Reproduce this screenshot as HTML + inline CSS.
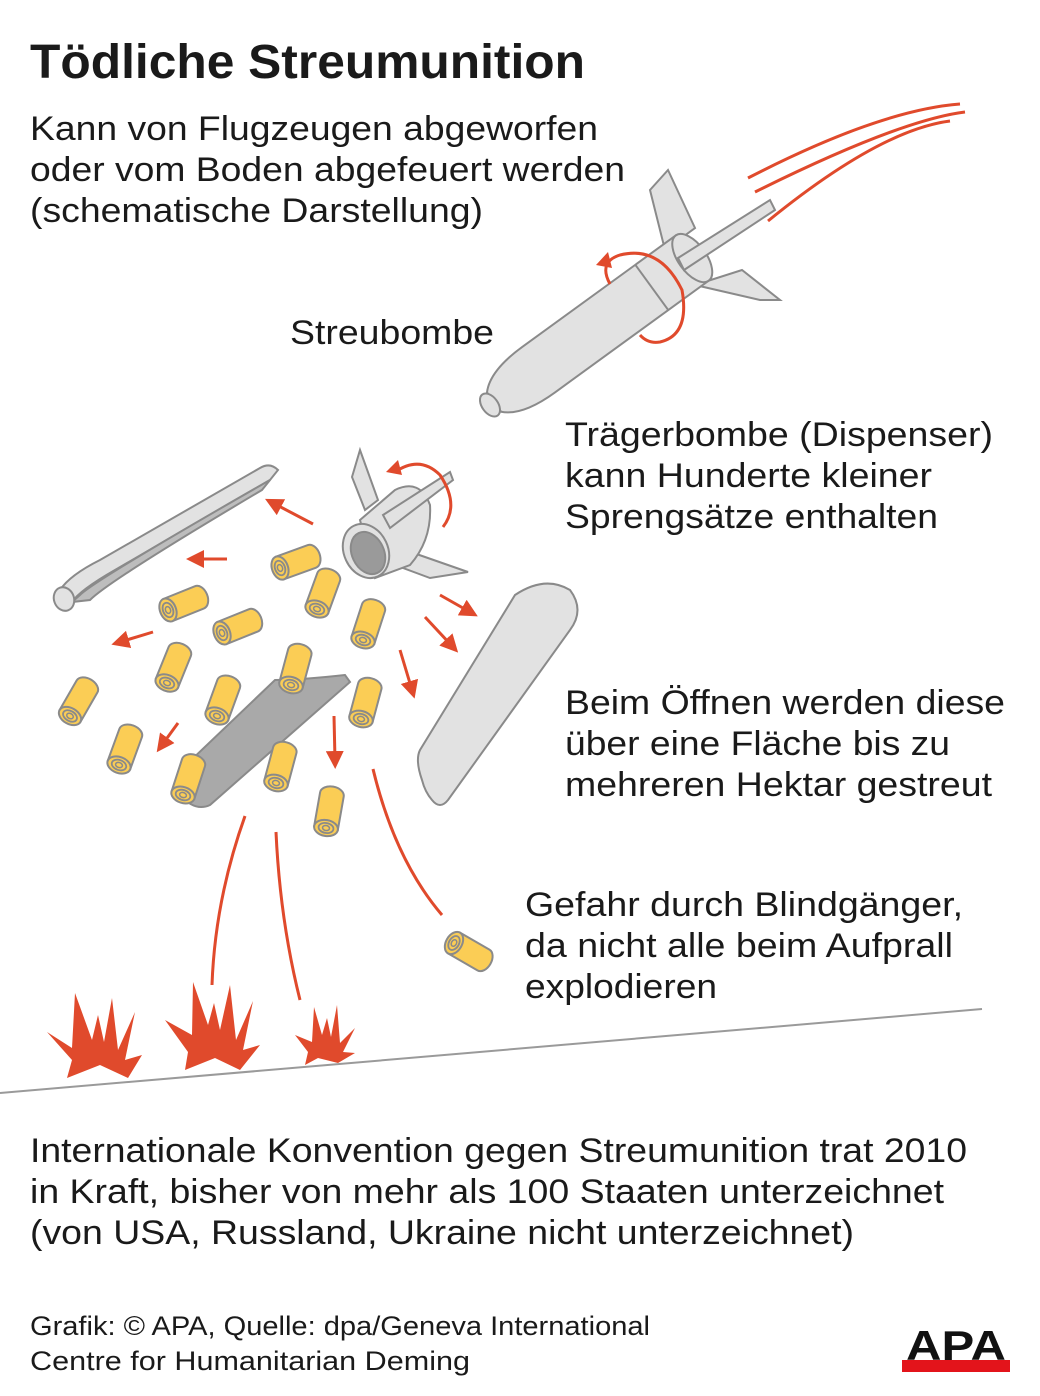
<!DOCTYPE html>
<html><head><meta charset="utf-8"><style>
body{margin:0;background:#fff;}
svg{display:block;}
text{font-family:"Liberation Sans",Arial,sans-serif;fill:#1a1a1a;}
</style></head><body>
<svg width="1040" height="1396" viewBox="0 0 1040 1396" xmlns="http://www.w3.org/2000/svg">
<defs>
<g id="cart">
  <path d="M0,-12 L34,-12 A8,12 0 0 1 34,12 L0,12 Z" fill="#fbcd55" stroke="#8a8a8a" stroke-width="2"/>
  <ellipse cx="0" cy="0" rx="8" ry="12" fill="#fbcd55" stroke="#8a8a8a" stroke-width="2"/>
  <ellipse cx="0" cy="0" rx="5" ry="7.5" fill="none" stroke="#8a8a8a" stroke-width="1.8"/>
  <ellipse cx="0" cy="0" rx="2.5" ry="3.5" fill="none" stroke="#8a8a8a" stroke-width="1.5"/>
</g>
<marker id="ah" markerWidth="6" markerHeight="6" refX="3" refY="3" orient="auto" markerUnits="strokeWidth"><path d="M0,0 L6,3 L0,6 Z" fill="#e04a2c"/></marker>
</defs>
<text x="30" y="78" font-size="48" font-weight="bold" textLength="555" lengthAdjust="spacingAndGlyphs">Tödliche Streumunition</text>
<g font-size="34">
<text x="30" y="140" textLength="568" lengthAdjust="spacingAndGlyphs">Kann von Flugzeugen abgeworfen</text>
<text x="30" y="181" textLength="595" lengthAdjust="spacingAndGlyphs">oder vom Boden abgefeuert werden</text>
<text x="30" y="222" textLength="453" lengthAdjust="spacingAndGlyphs">(schematische Darstellung)</text>
<text x="290" y="344" textLength="204" lengthAdjust="spacingAndGlyphs">Streubombe</text>
<text x="565" y="446" textLength="428" lengthAdjust="spacingAndGlyphs">Trägerbombe (Dispenser)</text>
<text x="565" y="487" textLength="367" lengthAdjust="spacingAndGlyphs">kann Hunderte kleiner</text>
<text x="565" y="528" textLength="373" lengthAdjust="spacingAndGlyphs">Sprengsätze enthalten</text>
<text x="565" y="714" textLength="440" lengthAdjust="spacingAndGlyphs">Beim Öffnen werden diese</text>
<text x="565" y="755" textLength="385" lengthAdjust="spacingAndGlyphs">über eine Fläche bis zu</text>
<text x="565" y="796" textLength="427" lengthAdjust="spacingAndGlyphs">mehreren Hektar gestreut</text>
<text x="525" y="916" textLength="438" lengthAdjust="spacingAndGlyphs">Gefahr durch Blindgänger,</text>
<text x="525" y="957" textLength="428" lengthAdjust="spacingAndGlyphs">da nicht alle beim Aufprall</text>
<text x="525" y="998" textLength="192" lengthAdjust="spacingAndGlyphs">explodieren</text>
<text x="30" y="1162" textLength="937" lengthAdjust="spacingAndGlyphs">Internationale Konvention gegen Streumunition trat 2010</text>
<text x="30" y="1203" textLength="914" lengthAdjust="spacingAndGlyphs">in Kraft, bisher von mehr als 100 Staaten unterzeichnet</text>
<text x="30" y="1244" textLength="824" lengthAdjust="spacingAndGlyphs">(von USA, Russland, Ukraine nicht unterzeichnet)</text>
</g>
<g font-size="27">
<text x="30" y="1335" textLength="620" lengthAdjust="spacingAndGlyphs">Grafik: © APA, Quelle: dpa/Geneva International</text>
<text x="30" y="1370" textLength="440" lengthAdjust="spacingAndGlyphs">Centre for Humanitarian Deming</text>
</g>
<!-- APA logo -->
<rect x="902" y="1360" width="108" height="12" fill="#e3141b"/>
<text x="956" y="1360" font-size="42" font-weight="bold" text-anchor="middle" textLength="100" lengthAdjust="spacingAndGlyphs" style="fill:#111">APA</text>

<!-- trail lines -->
<g fill="none" stroke="#e04a2c" stroke-width="3">
<path d="M748,178 Q880,110 960,104"/>
<path d="M755,192 Q900,120 965,112"/>
<path d="M768,221 Q880,130 950,121"/>
</g>
<!-- main bomb -->
<g stroke="#8a8a8a" stroke-width="2" fill="#e2e2e2">
<path d="M650,190 L668,170 L695,228 L665,250 Z"/>
<path d="M695,285 L760,300 L780,300 L742,270 Z"/>
<g transform="translate(490,405) rotate(-36)">
  <path d="M5,-12 Q20,-28 60,-28 L250,-28 L250,28 L60,28 Q20,28 5,12 Z"/>
  <ellipse cx="250" cy="0" rx="14" ry="28"/>
  <line x1="200" y1="-28" x2="200" y2="28"/>
  <ellipse cx="0" cy="0" rx="8" ry="13"/>
</g>
<path d="M678,258 L770,200 L775,210 L684,270 Z"/>
</g>
<path d="M610,284 Q598,262 620,255 Q660,245 682,290 Q690,335 660,342 Q648,344 640,335" fill="none" stroke="#e04a2c" stroke-width="3"/>
<path d="M596,265 L608,252 L612,268 Z" fill="#e04a2c"/>

<!-- shells -->
<g stroke="#8a8a8a" stroke-width="2">
<path d="M60,590 Q70,575 100,560 L260,468 Q270,462 278,470 L270,480 L115,570 Q80,590 72,602 Z" fill="#e2e2e2"/>
<path d="M72,602 L80,595 Q95,580 270,480 L262,490 Q110,580 90,600 Z" fill="#bdbdbd"/>
<ellipse cx="64" cy="599" rx="10" ry="12" transform="rotate(-20 64 599)" fill="#e2e2e2"/>
<path d="M515,595 Q545,575 570,590 Q585,610 570,630 L448,800 Q440,810 432,800 Q425,792 422,780 Q415,760 420,750 Z" fill="#e2e2e2"/>
<path d="M180,795 Q168,782 186,765 L275,680 Q300,680 345,675 L350,682 L210,805 Q195,812 180,795 Z" fill="#a9a9a9"/>
</g>
<!-- dispenser tail -->
<g stroke="#8a8a8a" stroke-width="2" fill="#e2e2e2">
<path d="M352,477 L360,450 L378,500 L365,510 Z"/>
<path d="M405,550 L468,572 L430,578 L395,565 Z"/>
<path d="M360,520 L395,490 Q420,478 430,505 Q432,540 410,565 L375,578 Z"/>
<ellipse cx="366" cy="551" rx="22" ry="28" transform="rotate(-25 366 551)"/>
<ellipse cx="368" cy="553" rx="16" ry="22" transform="rotate(-25 368 553)" fill="#9a9a9a"/>
<path d="M383,515 L450,472 L453,480 L390,528 Z"/>
</g>
<path d="M395,472 Q420,455 440,475 Q460,505 443,527" fill="none" stroke="#e04a2c" stroke-width="3"/>
<path d="M386,472 L398,460 L402,475 Z" fill="#e04a2c"/>

<!-- cartridges -->
<use href="#cart" transform="translate(280,568) rotate(-20)"/>
<use href="#cart" transform="translate(168,610) rotate(-22)"/>
<use href="#cart" transform="translate(222,633) rotate(-22)"/>
<use href="#cart" transform="translate(317,609) rotate(-70)"/>
<use href="#cart" transform="translate(363,640) rotate(-72)"/>
<use href="#cart" transform="translate(167,683) rotate(-68)"/>
<use href="#cart" transform="translate(291,685) rotate(-75)"/>
<use href="#cart" transform="translate(217,716) rotate(-70)"/>
<use href="#cart" transform="translate(361,719) rotate(-75)"/>
<use href="#cart" transform="translate(70,716) rotate(-60)"/>
<use href="#cart" transform="translate(119,765) rotate(-70)"/>
<use href="#cart" transform="translate(183,795) rotate(-72)"/>
<use href="#cart" transform="translate(276,783) rotate(-75)"/>
<use href="#cart" transform="translate(326,828) rotate(-80)"/>
<use href="#cart" transform="translate(454,943) rotate(30)"/>

<!-- arrows -->
<g stroke="#e04a2c" stroke-width="3" marker-end="url(#ah)">
<line x1="313" y1="524" x2="273" y2="503"/>
<line x1="227" y1="559" x2="195" y2="559"/>
<line x1="153" y1="632" x2="120" y2="642"/>
<line x1="178" y1="723" x2="162" y2="745"/>
<line x1="440" y1="595" x2="470" y2="612"/>
<line x1="425" y1="617" x2="452" y2="646"/>
<line x1="400" y1="650" x2="412" y2="690"/>
<line x1="334" y1="716" x2="335" y2="760"/>
</g>
<!-- fall lines -->
<g fill="none" stroke="#e04a2c" stroke-width="3">
<path d="M245,816 Q215,900 212,985"/>
<path d="M276,832 Q280,920 300,1000"/>
<path d="M373,769 Q395,860 442,915"/>
</g>
<!-- explosions -->
<g fill="#e04a2c">
<polygon points="47,1032 72,1048 75,993 92,1040 98,1015 104,1042 112,998 118,1050 135,1012 125,1060 142,1055 128,1078 100,1065 67,1078 72,1060"/>
<polygon points="165,1020 192,1035 193,982 208,1025 214,1003 220,1030 230,985 236,1040 253,1001 243,1050 260,1045 240,1070 215,1058 185,1070 188,1052"/>
<polygon points="295,1035 312,1042 314,1007 322,1035 327,1018 331,1037 337,1005 340,1043 355,1028 343,1052 355,1053 338,1063 318,1058 305,1065 308,1052"/>
</g>
<line x1="0" y1="1093" x2="982" y2="1009" stroke="#9a9a9a" stroke-width="2"/>
</svg>
</body></html>
